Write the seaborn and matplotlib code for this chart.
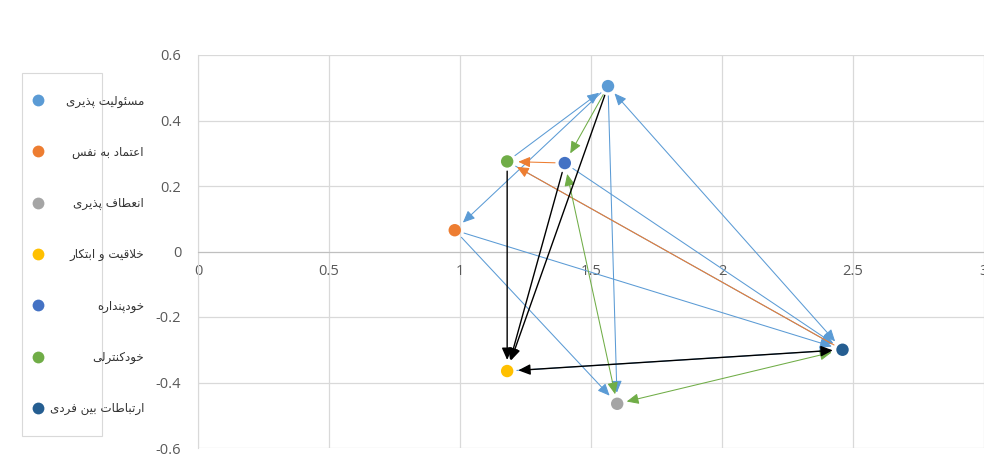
import matplotlib
matplotlib.use("Agg")
import matplotlib.pyplot as plt
import seaborn as sns
import pandas as pd
from matplotlib.lines import Line2D
from matplotlib.patches import Rectangle

# point data
names = ['مسئولیت پذیری', 'اعتماد به نفس', 'انعطاف پذیری', 'خلاقیت و ابتکار',
         'خودپنداره', 'خودکنترلی', 'ارتباطات بین فردی']
x_vals = [1.565, 0.98, 1.60, 1.18, 1.40, 1.18, 2.46]
y_vals = [0.505, 0.065, -0.465, -0.365, 0.27, 0.275, -0.30]
colors = ['#5B9BD5', '#ED7D31', '#A5A5A5', '#FFC000', '#4472C4', '#70AD47', '#255E91']

# arrows: from index, to index, colour, two-headed
arrows = [
    (5, 0, '#5B9BD5', False),
    (0, 1, '#5B9BD5', False),
    (0, 6, '#5B9BD5', True),
    (0, 2, '#5B9BD5', False),
    (1, 2, '#5B9BD5', False),
    (1, 6, '#5B9BD5', False),
    (3, 6, '#5B9BD5', False),
    (5, 6, '#5B9BD5', False),
    (4, 6, '#5B9BD5', False),
    (4, 5, '#ED7D31', False),
    (6, 5, '#ED7D31', False),
    (0, 4, '#70AD47', False),
    (2, 4, '#70AD47', True),
    (2, 6, '#70AD47', True),
    (0, 3, 'black', False),
    (4, 3, 'black', False),
    (5, 3, 'black', False),
    (6, 3, 'black', True),
]

x_ticks = [0, 0.5, 1, 1.5, 2, 2.5, 3]
x_labels = ['0', '0.5', '1', '1.5', '2', '2.5', '3']
y_ticks = [0.6, 0.4, 0.2, 0, -0.2, -0.4, -0.6]
y_labels = ['0.6', '0.4', '0.2', '0', '-0.2', '-0.4', '-0.6']

# matplotlib has no arabic shaping -> presentation forms by hand
# (isolated, final, initial, medial)
FORMS = {
    'ا': ('\uFE8D', '\uFE8E', None, None),
    'ب': ('\uFE8F', '\uFE90', '\uFE91', '\uFE92'),
    'پ': ('\uFB56', '\uFB57', '\uFB58', '\uFB59'),
    'ت': ('\uFE95', '\uFE96', '\uFE97', '\uFE98'),
    'خ': ('\uFEA5', '\uFEA6', '\uFEA7', '\uFEA8'),
    'د': ('\uFEA9', '\uFEAA', None, None),
    'ذ': ('\uFEAB', '\uFEAC', None, None),
    'ر': ('\uFEAD', '\uFEAE', None, None),
    'س': ('\uFEB1', '\uFEB2', '\uFEB3', '\uFEB4'),
    'ط': ('\uFEC1', '\uFEC2', '\uFEC3', '\uFEC4'),
    'ع': ('\uFEC9', '\uFECA', '\uFECB', '\uFECC'),
    'ف': ('\uFED1', '\uFED2', '\uFED3', '\uFED4'),
    'ق': ('\uFED5', '\uFED6', '\uFED7', '\uFED8'),
    'ک': ('\uFB8E', '\uFB8F', '\uFB90', '\uFB91'),
    'ل': ('\uFEDD', '\uFEDE', '\uFEDF', '\uFEE0'),
    'م': ('\uFEE1', '\uFEE2', '\uFEE3', '\uFEE4'),
    'ن': ('\uFEE5', '\uFEE6', '\uFEE7', '\uFEE8'),
    'ه': ('\uFEE9', '\uFEEA', '\uFEEB', '\uFEEC'),
    'و': ('\uFEED', '\uFEEE', None, None),
    'ی': ('\uFBFC', '\uFBFD', '\uFBFE', '\uFBFF'),
    'ئ': ('\uFE89', '\uFE8A', '\uFE8B', '\uFE8C'),
}


def dual(c):
    return c in FORMS and FORMS[c][2] is not None


def shape(text):
    res = []
    prev = False
    i = 0
    while i < len(text):
        c = text[i]
        if c not in FORMS:
            res.append(c)
            prev = False
            i += 1
            continue
        if c == 'ل' and i + 1 < len(text) and text[i + 1] == 'ا':
            res.append('\uFEFC' if prev else '\uFEFB')
            prev = False
            i += 2
            continue
        nxt = text[i + 1] if i + 1 < len(text) else ''
        can_next = dual(c) and nxt in FORMS
        iso, fin, ini, med = FORMS[c]
        if prev and can_next:
            g = med
        elif prev:
            g = fin
        elif can_next:
            g = ini
        else:
            g = iso
        res.append(g)
        prev = dual(c)
        i += 1
    return ''.join(reversed(res))


sns.set_style('white')
plt.rcParams['font.family'] = ['Open Sans', 'DejaVu Sans']

df = pd.DataFrame({'x': x_vals, 'y': y_vals, 'name': names})

fig = plt.figure(figsize=(9.84, 4.68), dpi=100)
ax = fig.add_axes([198 / 984, 20 / 468, 786 / 984, 393 / 468])

for a, b, c, both in arrows:
    style = '<|-|>' if both else '-|>'
    ax.annotate('', xy=(x_vals[b], y_vals[b]), xytext=(x_vals[a], y_vals[a]),
                arrowprops=dict(arrowstyle=style + ',head_length=0.45,head_width=0.2',
                                color=c, lw=1.0 if c == 'black' else 0.75,
                                shrinkA=7, shrinkB=8, mutation_scale=16),
                zorder=3, annotation_clip=False)

sns.scatterplot(data=df, x='x', y='y', hue='name', palette=colors, s=80,
                edgecolor='none', legend=False, zorder=5, ax=ax)

ax.set_xlim(0, 3)
ax.set_ylim(-0.6, 0.6)
ax.set_xticks(x_ticks)
ax.set_xticklabels(x_labels)
ax.set_yticks(y_ticks)
ax.set_yticklabels(y_labels)
ax.set_xlabel('')
ax.set_ylabel('')
ax.grid(True, color='#D9D9D9', lw=0.9)
ax.set_axisbelow(True)
for s in ['top', 'right']:
    ax.spines[s].set_visible(False)
ax.spines['bottom'].set_position(('data', 0))
ax.spines['bottom'].set_color('#BFBFBF')
ax.spines['left'].set_color('#D9D9D9')
ax.tick_params(axis='x', length=0, pad=9, labelsize=10.5, labelcolor='#595959')
ax.tick_params(axis='y', length=0, pad=12, labelsize=10.5, labelcolor='#595959')
for t in ax.get_xticklabels() + ax.get_yticklabels():
    t.set_clip_on(False)

# legend box drawn by hand (text runs past the frame as in the original)
fig.add_artist(Rectangle((22 / 984, 1 - 436 / 468), 80 / 984, 363 / 468,
                         transform=fig.transFigure, fill=False,
                         ec='#D9D9D9', lw=0.8))
for i, (n, c) in enumerate(zip(names, colors)):
    yy = 1 - (100 + i * 51.3) / 468
    fig.add_artist(Line2D([38 / 984], [yy], marker='o', ms=8.5, color=c,
                          mec='none', transform=fig.transFigure))
    fig.text(144 / 984, yy - 1 / 468, shape(n), ha='right', va='center',
             fontsize=8.6, color='#333333', family='DejaVu Sans')

fig.savefig('out.png', dpi=100, facecolor='white')
